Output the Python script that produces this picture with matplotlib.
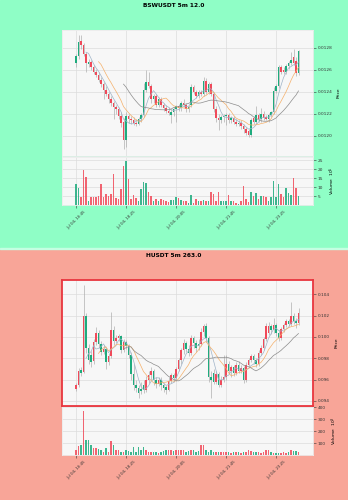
import numpy as np
import pandas as pd
import matplotlib
matplotlib.use('Agg')
import matplotlib.pyplot as plt
from matplotlib.patches import Rectangle
from matplotlib.ticker import MultipleLocator, FormatStrFormatter

# x tick labels (every 20 candles of 5m)
tick_pos = [0, 20, 40, 60, 80]
tick_labels = ['Jul 04, 16:45', 'Jul 04, 18:25', 'Jul 04, 20:05', 'Jul 04, 21:45', 'Jul 04, 23:25']

# ---- BSWUSDT ----
bsw_open = [0.01266, 0.01272, 0.01286, 0.01282, 0.01274, 0.01265, 0.01267, 0.01262, 0.01258, 0.01255,
            0.01251, 0.01247, 0.01242, 0.01238, 0.01233, 0.01230, 0.01226, 0.01224, 0.01218, 0.01213,
            0.01196, 0.01218, 0.01215, 0.01214, 0.01212, 0.01211, 0.01215, 0.01219, 0.01242, 0.01249,
            0.01245, 0.01233, 0.01236, 0.01228, 0.01233, 0.01228, 0.01225, 0.01223, 0.01219, 0.01222,
            0.01224, 0.01227, 0.01225, 0.01230, 0.01228, 0.01224, 0.01228, 0.01244, 0.01240, 0.01236,
            0.01240, 0.01238, 0.01250, 0.01240, 0.01247, 0.01238, 0.01224, 0.01216, 0.01214, 0.01217,
            0.01218, 0.01219, 0.01214, 0.01216, 0.01213, 0.01211, 0.01212, 0.01209, 0.01206, 0.01204,
            0.01201, 0.01216, 0.01213, 0.01219, 0.01215, 0.01220, 0.01217, 0.01215, 0.01219, 0.01222,
            0.01241, 0.01245, 0.01262, 0.01260, 0.01258, 0.01263, 0.01266, 0.01271, 0.01268, 0.01257]
bsw_high = [0.01274, 0.01291, 0.01291, 0.01284, 0.01276, 0.01270, 0.01269, 0.01264, 0.01261, 0.01258,
            0.01253, 0.01249, 0.01245, 0.01240, 0.01236, 0.01232, 0.01228, 0.01226, 0.01222, 0.01216,
            0.01222, 0.01220, 0.01218, 0.01217, 0.01215, 0.01217, 0.01221, 0.01248, 0.01260, 0.01258,
            0.01247, 0.01238, 0.01238, 0.01235, 0.01235, 0.01230, 0.01228, 0.01226, 0.01224, 0.01226,
            0.01228, 0.01229, 0.01232, 0.01233, 0.01230, 0.01228, 0.01247, 0.01246, 0.01242, 0.01242,
            0.01242, 0.01253, 0.01252, 0.01249, 0.01249, 0.01240, 0.01227, 0.01220, 0.01219, 0.01220,
            0.01221, 0.01221, 0.01218, 0.01218, 0.01215, 0.01214, 0.01214, 0.01211, 0.01208, 0.01206,
            0.01216, 0.01218, 0.01227, 0.01221, 0.01225, 0.01223, 0.01219, 0.01221, 0.01223, 0.01244,
            0.01247, 0.01264, 0.01264, 0.01262, 0.01265, 0.01268, 0.01276, 0.01279, 0.01271, 0.01278]
bsw_low = [0.01262, 0.01270, 0.01279, 0.01272, 0.01258, 0.01262, 0.01260, 0.01256, 0.01253, 0.01249,
           0.01244, 0.01233, 0.01236, 0.01230, 0.01227, 0.01215, 0.01220, 0.01215, 0.01208, 0.01188,
           0.01190, 0.01212, 0.01211, 0.01210, 0.01209, 0.01210, 0.01213, 0.01217, 0.01240, 0.01243,
           0.01230, 0.01230, 0.01226, 0.01226, 0.01226, 0.01223, 0.01221, 0.01219, 0.01212, 0.01218,
           0.01213, 0.01223, 0.01223, 0.01226, 0.01222, 0.01222, 0.01226, 0.01238, 0.01234, 0.01234,
           0.01236, 0.01236, 0.01238, 0.01238, 0.01236, 0.01222, 0.01213, 0.01205, 0.01212, 0.01213,
           0.01210, 0.01212, 0.01212, 0.01211, 0.01209, 0.01209, 0.01206, 0.01203, 0.01201, 0.01199,
           0.01199, 0.01211, 0.01211, 0.01213, 0.01213, 0.01214, 0.01214, 0.01213, 0.01217, 0.01220,
           0.01239, 0.01243, 0.01256, 0.01256, 0.01256, 0.01261, 0.01264, 0.01264, 0.01254, 0.01255]
bsw_close = [0.01272, 0.01285, 0.01282, 0.01274, 0.01266, 0.01267, 0.01262, 0.01258, 0.01255, 0.01251,
             0.01247, 0.01242, 0.01238, 0.01233, 0.01230, 0.01226, 0.01224, 0.01218, 0.01212, 0.01196,
             0.01218, 0.01215, 0.01214, 0.01212, 0.01211, 0.01215, 0.01219, 0.01242, 0.01249, 0.01245,
             0.01233, 0.01236, 0.01228, 0.01233, 0.01228, 0.01225, 0.01223, 0.01221, 0.01222, 0.01224,
             0.01227, 0.01225, 0.01230, 0.01228, 0.01224, 0.01226, 0.01244, 0.01240, 0.01236, 0.01240,
             0.01238, 0.01250, 0.01240, 0.01247, 0.01238, 0.01224, 0.01216, 0.01214, 0.01217, 0.01218,
             0.01219, 0.01214, 0.01216, 0.01213, 0.01211, 0.01212, 0.01209, 0.01206, 0.01203, 0.01201,
             0.01214, 0.01213, 0.01219, 0.01215, 0.01220, 0.01216, 0.01215, 0.01219, 0.01222, 0.01241,
             0.01245, 0.01262, 0.01258, 0.01258, 0.01263, 0.01266, 0.01269, 0.01266, 0.01257, 0.01277]
bsw_vol = [11.5, 9.2, 4.2, 19.2, 15.8, 2.4, 4.2, 4.2, 4.6, 5.1,
           11.5, 4.6, 6.0, 4.8, 6.0, 17.4, 3.7, 3.3, 8.8, 21.6,
           24.7, 14.7, 3.3, 5.7, 3.7, 2.0, 8.8, 12.8, 12.0, 7.5,
           5.1, 2.4, 3.3, 2.4, 3.3, 2.7, 2.0, 1.5, 2.7, 2.9,
           4.2, 3.8, 2.9, 2.0, 2.0, 1.1, 5.7, 1.1, 3.3, 2.0,
           2.4, 2.9, 2.0, 2.0, 7.3, 6.0, 2.0, 7.5, 2.0, 2.0,
           2.0, 5.5, 2.0, 2.0, 1.1, 0.5, 2.4, 10.3, 3.3, 1.5,
           7.3, 5.1, 6.6, 3.3, 4.8, 5.1, 4.2, 2.4, 4.2, 13.4,
           4.2, 11.5, 6.0, 4.2, 9.3, 6.6, 5.7, 15.2, 9.2, 4.8]

# ---- HUSDT ----
h_open = [0.0951, 0.0955, 0.0969, 0.0967, 0.1020, 0.0990, 0.0983, 0.0977, 0.0995, 0.1004,
          0.0993, 0.0986, 0.0989, 0.0976, 0.0982, 0.1006, 0.0996, 0.0999, 0.1001, 0.0988,
          0.0995, 0.0991, 0.0983, 0.0965, 0.0955, 0.0952, 0.0951, 0.0955, 0.0950, 0.0960,
          0.0964, 0.0968, 0.0960, 0.0956, 0.0960, 0.0955, 0.0953, 0.0950, 0.0959, 0.0964,
          0.0961, 0.0970, 0.0978, 0.0988, 0.0994, 0.0989, 0.0985, 0.0999, 0.0994, 0.0993,
          0.0993, 0.1005, 0.1010, 0.0999, 0.0962, 0.0966, 0.0958, 0.0965, 0.0955, 0.0960,
          0.0962, 0.0975, 0.0968, 0.0972, 0.0966, 0.0974, 0.0968, 0.0971, 0.0960, 0.0974,
          0.0978, 0.0982, 0.0978, 0.0975, 0.0985, 0.0990, 0.0998, 0.1004, 0.1010, 0.1006,
          0.1011, 0.1004, 0.0999, 0.1007, 0.1011, 0.1015, 0.1012, 0.1020, 0.1015, 0.1013]
h_high = [0.0957, 0.0971, 0.0972, 0.1049, 0.1022, 0.0993, 0.0987, 0.0998, 0.1009, 0.1006,
          0.0996, 0.0992, 0.0990, 0.0985, 0.1023, 0.1010, 0.1002, 0.1003, 0.1002, 0.0998,
          0.0997, 0.0993, 0.0986, 0.0975, 0.0960, 0.0955, 0.0958, 0.0960, 0.0963, 0.0968,
          0.0972, 0.0970, 0.0962, 0.0962, 0.0962, 0.0957, 0.0955, 0.0962, 0.0966, 0.0966,
          0.0972, 0.0980, 0.0990, 0.0998, 0.0996, 0.0992, 0.1002, 0.1001, 0.0997, 0.0998,
          0.1008, 0.1012, 0.1013, 0.1001, 0.0968, 0.0970, 0.0968, 0.0967, 0.0963, 0.0983,
          0.0983, 0.0977, 0.0974, 0.0974, 0.0976, 0.0977, 0.0974, 0.0973, 0.0976, 0.0980,
          0.0984, 0.0984, 0.0980, 0.0988, 0.0992, 0.1000, 0.1013, 0.1014, 0.1012, 0.1018,
          0.1013, 0.1006, 0.1009, 0.1013, 0.1017, 0.1017, 0.1033, 0.1022, 0.1018, 0.1027]
h_low = [0.0949, 0.0953, 0.0963, 0.0966, 0.0985, 0.0975, 0.0972, 0.0975, 0.0992, 0.0990,
         0.0983, 0.0984, 0.0970, 0.0974, 0.0980, 0.0992, 0.0994, 0.0996, 0.0985, 0.0986,
         0.0989, 0.0980, 0.0960, 0.0950, 0.0948, 0.0943, 0.0946, 0.0947, 0.0948, 0.0957,
         0.0960, 0.0955, 0.0952, 0.0954, 0.0950, 0.0948, 0.0946, 0.0949, 0.0957, 0.0958,
         0.0959, 0.0968, 0.0975, 0.0984, 0.0986, 0.0982, 0.0983, 0.0990, 0.0986, 0.0988,
         0.0991, 0.1001, 0.0995, 0.0958, 0.0943, 0.0956, 0.0956, 0.0953, 0.0953, 0.0958,
         0.0960, 0.0965, 0.0962, 0.0963, 0.0964, 0.0966, 0.0966, 0.0957, 0.0958, 0.0972,
         0.0976, 0.0975, 0.0972, 0.0973, 0.0983, 0.0988, 0.0996, 0.1002, 0.1003, 0.1004,
         0.1001, 0.0996, 0.0997, 0.1005, 0.1009, 0.1010, 0.1010, 0.1012, 0.1008, 0.1011]
h_close = [0.0955, 0.0968, 0.0966, 0.1020, 0.0990, 0.0978, 0.0976, 0.0995, 0.1004, 0.0993,
           0.0986, 0.0989, 0.0976, 0.0982, 0.1006, 0.0996, 0.0999, 0.1001, 0.0988, 0.0995,
           0.0991, 0.0983, 0.0965, 0.0955, 0.0952, 0.0947, 0.0949, 0.0950, 0.0960, 0.0964,
           0.0968, 0.0960, 0.0956, 0.0960, 0.0955, 0.0952, 0.0950, 0.0959, 0.0964, 0.0961,
           0.0970, 0.0978, 0.0988, 0.0994, 0.0989, 0.0985, 0.0999, 0.0994, 0.0990, 0.0991,
           0.1005, 0.1010, 0.0999, 0.0962, 0.0960, 0.0958, 0.0965, 0.0955, 0.0960, 0.0962,
           0.0975, 0.0968, 0.0972, 0.0966, 0.0974, 0.0968, 0.0971, 0.0960, 0.0974, 0.0978,
           0.0982, 0.0978, 0.0975, 0.0985, 0.0990, 0.0998, 0.1010, 0.1010, 0.1006, 0.1011,
           0.1004, 0.0999, 0.1007, 0.1011, 0.1015, 0.1012, 0.1020, 0.1015, 0.1013, 0.1022]
h_vol = [46, 77, 82, 374, 128, 123, 87, 60, 55, 49,
         46, 27, 60, 27, 117, 82, 41, 41, 27, 27,
         41, 35, 27, 68, 27, 68, 41, 68, 41, 27,
         27, 22, 27, 19, 27, 35, 41, 41, 41, 33,
         41, 46, 46, 46, 27, 35, 41, 46, 27, 35,
         82, 82, 41, 27, 41, 22, 27, 22, 27, 27,
         22, 27, 19, 27, 22, 27, 19, 27, 27, 41,
         35, 27, 27, 22, 19, 27, 41, 41, 27, 19,
         19, 14, 19, 22, 19, 22, 41, 33, 33, 27]

W, H = 348, 500
GREEN = '#1eab7d'
RED = '#f04a5a'


def px_rect(l, t, r, b):
    return [l / W, 1 - b / H, (r - l) / W, (b - t) / H]


def style_axis(ax):
    ax.set_facecolor('#f7f7f7')
    ax.yaxis.tick_right()
    ax.yaxis.set_label_position('right')
    ax.tick_params(labelsize=3.1, length=2, width=0.4, colors='#333333', pad=1.5)
    ax.grid(True, color='#dcdcdc', lw=0.5)
    ax.set_axisbelow(True)
    for s in ax.spines.values():
        s.set_color('#ececec')
        s.set_linewidth(0.6)
    ax.set_xticks(tick_pos)
    ax.set_xlim(-5.6, 94.8)


def draw_chart(fig, y0, title, o, h, l, c, v, up_col, down_col, ylim, ystep, yfmt, vol_ticks, vol_label, frame=None):
    o, h, l, c, v = map(np.asarray, (o, h, l, c, v))
    x = np.arange(len(c))
    up = c >= o
    cols = np.where(up, up_col, down_col)

    fig.text(0.5, 1 - (y0 + 5.5) / H, title, ha='center', va='center', fontsize=4.2, fontweight='bold')

    ax = fig.add_axes(px_rect(62, y0 + 30, 313, y0 + 156))
    style_axis(ax)
    ax.vlines(x, l, h, color='#b0b0b0', lw=0.5, zorder=2)
    ax.bar(x, np.where(np.abs(c - o) > 0, c - o, (ylim[1] - ylim[0]) * 0.002), bottom=o,
           width=0.72, color=cols, lw=0, zorder=3)
    s = pd.Series(c)
    for n, mc in zip((5, 10, 20), ('#9fb3c8', '#f5b06a', '#8c8c8c')):
        ax.plot(x, s.rolling(n).mean(), color=mc, lw=0.5, zorder=4)
    ax.set_ylim(*ylim)
    ax.yaxis.set_major_locator(MultipleLocator(ystep))
    ax.yaxis.set_major_formatter(FormatStrFormatter(yfmt))
    ax.set_ylabel('Price', fontsize=3.2, labelpad=3)
    ax.tick_params(axis='x', labelbottom=False, length=0)
    if frame:
        for s_ in ax.spines.values():
            s_.set_color(frame)
            s_.set_linewidth(1.3)

    vax = fig.add_axes(px_rect(62, y0 + 157, 313, y0 + 205))
    style_axis(vax)
    vax.bar(x, v, width=0.72, color=cols, alpha=0.85, lw=0, zorder=3)
    vax.set_ylim(0, max(v) * 1.08)
    vax.set_yticks(vol_ticks)
    vax.set_ylabel(vol_label, fontsize=3.2, labelpad=3)
    vax.set_xticklabels(tick_labels, rotation=45, fontsize=2.8)
    vax.tick_params(axis='x', length=2, pad=1.5)


fig = plt.figure(figsize=(W / 100, H / 100), dpi=100)
fig.patches.append(Rectangle((0, 0.5), 1, 0.5, transform=fig.transFigure, color='#8ffec6', zorder=-10))
fig.patches.append(Rectangle((0, 0), 1, 0.5, transform=fig.transFigure, color='#f8a598', zorder=-10))
fig.patches.append(Rectangle((0, 1 - 249 / H), 1, 1.2 / H, transform=fig.transFigure, color='#c4ffe2', zorder=-9))

draw_chart(fig, 0, 'BSWUSDT 5m 12.0', bsw_open, bsw_high, bsw_low, bsw_close, bsw_vol,
           GREEN, RED, (0.011818, 0.012959), 0.0002, '%.4f', [5, 10, 15, 20, 25], 'Volume  $10^{5}$')
draw_chart(fig, 250, 'HUSDT 5m 263.0', h_open, h_high, h_low, h_close, h_vol,
           RED, GREEN, (0.09352, 0.10533), 0.002, '%.3f', [100, 200, 300, 400], 'Volume  $10^{3}$',
           frame='#e8363f')

fig.savefig('out.png', dpi=100)
